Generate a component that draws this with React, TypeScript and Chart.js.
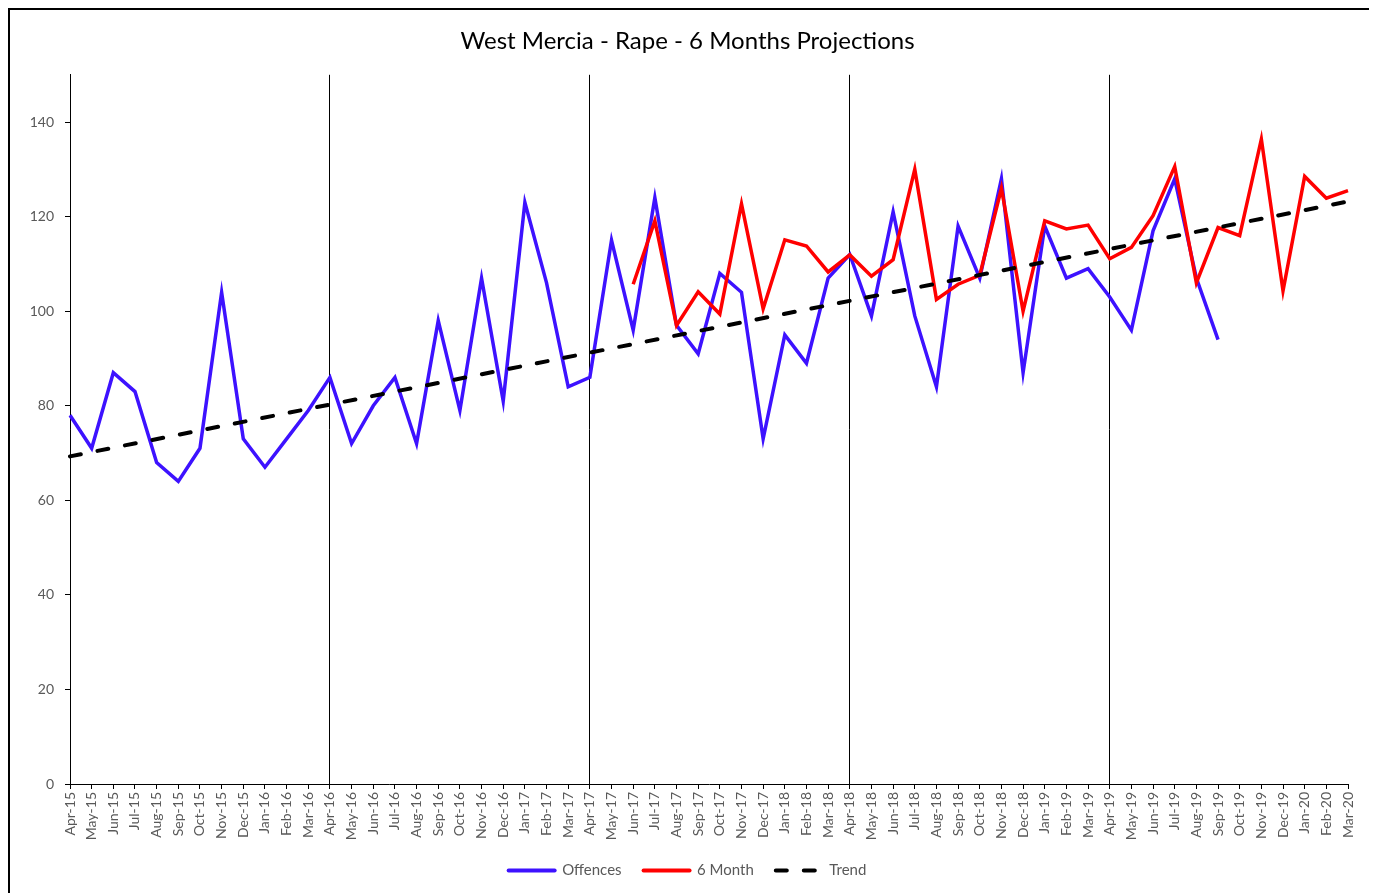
import React, { useEffect, useRef } from "react";
import { Chart, registerables } from "chart.js";

Chart.register(...registerables);

const months = [
  "Apr-15","May-15","Jun-15","Jul-15","Aug-15","Sep-15","Oct-15","Nov-15","Dec-15","Jan-16","Feb-16","Mar-16",
  "Apr-16","May-16","Jun-16","Jul-16","Aug-16","Sep-16","Oct-16","Nov-16","Dec-16","Jan-17","Feb-17","Mar-17",
  "Apr-17","May-17","Jun-17","Jul-17","Aug-17","Sep-17","Oct-17","Nov-17","Dec-17","Jan-18","Feb-18","Mar-18",
  "Apr-18","May-18","Jun-18","Jul-18","Aug-18","Sep-18","Oct-18","Nov-18","Dec-18","Jan-19","Feb-19","Mar-19",
  "Apr-19","May-19","Jun-19","Jul-19","Aug-19","Sep-19","Oct-19","Nov-19","Dec-19","Jan-20","Feb-20","Mar-20",
];

const offences: (number | null)[] = [
  78, 71, 87, 83, 68, 64, 71, 104, 73, 67, 73, 79,
  86, 72, 80, 86, 72, 98, 79, 107, 81, 123, 106, 84,
  86, 115, 96, 124, 97, 91, 108, 104, 73, 95, 89, 107,
  112, 99, 121, 99, 84, 118, 107, 128, 87, 118, 107, 109,
  103, 96, 117, 128, 107, 94,
];

const sixMonthStart = 26;
const sixMonth: number[] = [
  105.7, 119.1, 97, 104.1, 99.4, 122.7, 100.5, 115.1, 113.8, 108.3,
  111.9, 107.4, 110.9, 130, 102.5, 105.7, 107.6, 126, 100, 119.1, 117.4, 118.2,
  111.1, 113.5, 120.2, 130.6, 106, 117.7, 116, 136.4, 104.3, 128.5, 123.9, 125.5,
];

const trendStart = 69.3;
const trendEnd = 123.2;

const yTicks = [0, 20, 40, 60, 80, 100, 120, 140];

const FONT = "Lato, 'Open Sans', sans-serif";

export default function App() {
  const ref = useRef<HTMLCanvasElement | null>(null);

  useEffect(() => {
    const canvas = ref.current;
    if (!canvas) return;
    const n = months.length;
    const offData = months.map((_, i) => (i < offences.length ? offences[i] : null));
    const sixData = months.map((_, i) =>
      i >= sixMonthStart && i - sixMonthStart < sixMonth.length ? sixMonth[i - sixMonthStart] : null
    );
    const trendData = months.map((_, i) => (i === 0 ? trendStart : i === n - 1 ? trendEnd : null));

    const chart = new Chart(canvas, {
      type: "line",
      data: {
        labels: months,
        datasets: [
          {
            label: "Offences",
            data: offData,
            borderColor: "#3D12FF",
            backgroundColor: "#3D12FF",
            borderWidth: 3.5,
            pointRadius: 0,
            tension: 0,
            order: 2,
            spanGaps: false,
          },
          {
            label: "6 Month",
            data: sixData,
            borderColor: "#FF0000",
            backgroundColor: "#FF0000",
            borderWidth: 3.5,
            pointRadius: 0,
            tension: 0,
            order: 1,
            spanGaps: false,
          },
          {
            label: "Trend",
            data: trendData,
            borderColor: "#000000",
            backgroundColor: "#000000",
            borderWidth: 4,
            borderDash: [11, 17],
            borderCapStyle: "round",
            pointRadius: 0,
            tension: 0,
            order: 0,
            spanGaps: true,
          },
        ],
      },
      options: {
        responsive: false,
        animation: false,
        layout: { padding: { left: 17, right: 21, top: 0, bottom: 5 } },
        plugins: {
          tooltip: { enabled: false },
          title: {
            display: true,
            text: "West Mercia - Rape - 6 Months Projections",
            color: "#000000",
            font: { family: FONT, size: 24, weight: "normal", lineHeight: 1.2 },
            padding: { top: 17, bottom: 19 },
          },
          legend: {
            display: true,
            position: "bottom",
            labels: {
              usePointStyle: true,
              pointStyle: "line",
              pointStyleWidth: 46,
              color: "#595959",
              padding: 22,
              font: { family: FONT, size: 15 },
              sort: (a: any, b: any) => a.datasetIndex - b.datasetIndex,
              generateLabels: (ch: any) => {
                const items = (Chart as any).defaults.plugins.legend.labels.generateLabels(ch);
                items.forEach((it: any) => {
                  const ds: any = ch.data.datasets[it.datasetIndex];
                  it.lineDash = ds.borderDash || [];
                  it.lineWidth = 4;
                  it.strokeStyle = ds.borderColor;
                  it.fillStyle = ds.borderColor;
                  it.lineCap = ds.borderCapStyle || "round";
                  it.pointStyle = "line";
                });
                return items;
              },
            },
          },
        },
        scales: {
          x: {
            type: "category",
            offset: false,
            afterFit: (s: any) => {
              s.height = 57;
            },
            border: { display: true, color: "#000000", width: 1 },
            grid: {
              display: true,
              drawOnChartArea: true,
              drawTicks: true,
              tickLength: 5,
              tickColor: "#000000",
              lineWidth: 1,
              color: (ctx: any) => (ctx.index % 12 === 0 ? "#000000" : "rgba(0,0,0,0)"),
            },
            ticks: {
              autoSkip: false,
              maxRotation: 90,
              minRotation: 90,
              padding: 3,
              color: "#595959",
              font: { family: FONT, size: 14 },
            },
          },
          y: {
            min: 0,
            max: 150,
            afterFit: (s: any) => {
              s.width = 43;
            },
            afterBuildTicks: (s: any) => {
              s.ticks = yTicks.map((v) => ({ value: v }));
            },
            border: { display: true, color: "#000000", width: 1 },
            grid: {
              display: true,
              drawOnChartArea: false,
              drawTicks: true,
              tickLength: 5,
              tickColor: "#000000",
            },
            ticks: {
              padding: 11,
              color: "#595959",
              font: { family: FONT, size: 14 },
            },
          },
        },
      },
    });
    return () => chart.destroy();
  }, []);

  return (
    <div
      style={{
        width: 1359,
        height: 900,
        border: "2px solid #000",
        boxSizing: "content-box",
        background: "#fff",
      }}
    >
      <canvas ref={ref} width={1359} height={883} style={{ display: "block" }} />
    </div>
  );
}
